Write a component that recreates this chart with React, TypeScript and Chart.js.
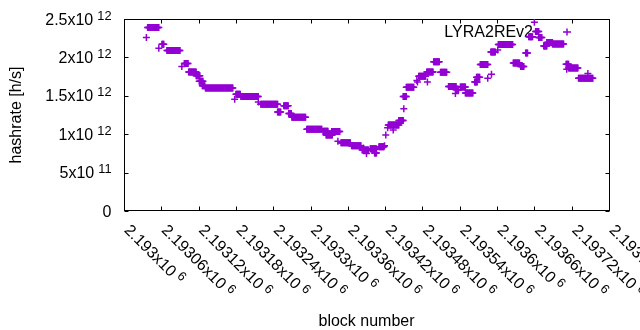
import React, { useEffect, useRef } from "react";
import { Chart, registerables } from "chart.js";

Chart.register(...registerables);

// ---- axes ----
const X_MIN = 2193000;
const X_MAX = 2193780;
const Y_MIN = 0;
const Y_MAX = 2.5e12;
const X_TICKS = [2193000, 2193060, 2193120, 2193180, 2193240, 2193300, 2193360, 2193420, 2193480, 2193540, 2193600, 2193660, 2193720, 2193780];
const X_TICK_LABELS = ["2.193x10^{6}", "2.19306x10^{6}", "2.19312x10^{6}", "2.19318x10^{6}", "2.19324x10^{6}", "2.1933x10^{6}", "2.19336x10^{6}", "2.19342x10^{6}", "2.19348x10^{6}", "2.19354x10^{6}", "2.1936x10^{6}", "2.19366x10^{6}", "2.19372x10^{6}", "2.19378x10^{6}"];
const Y_TICKS = [0, 5e11, 1e12, 1.5e12, 2e12, 2.5e12];
const Y_TICK_LABELS = ["0", "5x10^{11}", "1x10^{12}", "1.5x10^{12}", "2x10^{12}", "2.5x10^{12}"];
const X_TITLE = "block number";
const Y_TITLE = "hashrate [h/s]";
const SERIES_NAME = "LYRA2REv2";

// ---- data: runs of blocks (offset from X_MIN) sharing one hashrate (x10^12 h/s) ----
const RUN_START = [38, 36, 56, 61, 69, 93, 97, 104, 116, 121, 126, 131, 178, 180, 188, 216, 220, 247, 257, 265, 270, 294, 320, 325, 334, 344, 349, 366, 385, 383, 390, 396, 403, 410, 419, 421, 424, 425, 433, 442, 450, 449, 454, 471, 472, 474, 487, 488, 498, 509, 522, 533, 534, 541, 549, 564, 567, 585, 573, 591, 590, 601, 602, 626, 638, 646, 651, 660, 662, 667, 675, 680, 689, 711, 712, 715, 731, 746];
const RUN_END = [56, 36, 56, 64, 90, 93, 103, 116, 122, 127, 130, 175, 178, 187, 216, 216, 247, 252, 264, 269, 292, 318, 328, 335, 347, 344, 364, 381, 385, 393, 390, 406, 406, 418, 419, 421, 424, 442, 433, 449, 450, 454, 466, 471, 472, 485, 497, 488, 507, 519, 534, 533, 538, 549, 561, 568, 572, 585, 585, 591, 597, 601, 625, 636, 643, 649, 657, 660, 667, 672, 680, 689, 707, 715, 712, 730, 754, 746];
const RUN_VALUE = [2.39, 2.26, 2.12, 2.17, 2.09, 1.88, 1.92, 1.81, 1.76, 1.69, 1.63, 1.60, 1.455, 1.52, 1.49, 1.42, 1.39, 1.29, 1.37, 1.27, 1.22, 1.065, 1.04, 0.99, 1.035, 0.907, 0.89, 0.85, 0.82, 0.794, 0.75, 0.81, 0.755, 0.837, 0.85, 0.99, 1.085, 1.12, 1.055, 1.18, 1.33, 1.49, 1.61, 1.70, 1.68, 1.754, 1.81, 1.68, 1.944, 1.806, 1.62, 1.53, 1.58, 1.615, 1.536, 1.68, 1.74, 1.73, 1.908, 1.78, 2.07, 2.096, 2.168, 1.927, 1.88, 2.057, 2.27, 2.457, 2.337, 2.26, 2.15, 2.195, 2.174, 1.91, 1.845, 1.862, 1.728, 1.79];

const COLOR = "#9400d3";
const FONT = '"Liberation Sans", Arial, sans-serif';
const MAIN_SIZE = 16;
const SUP_SIZE = 12.8;

function buildPoints() {
  const pts: { x: number; y: number }[] = [];
  for (let i = 0; i < RUN_START.length; i++) {
    for (let b = RUN_START[i]; b <= RUN_END[i]; b++) {
      pts.push({ x: X_MIN + b, y: RUN_VALUE[i] * 1e12 });
    }
  }
  return pts;
}

function parseSup(label: string): [string, string] {
  const m = label.match(/^(.*?)\^\{(.*)\}$/);
  return m ? [m[1], m[2]] : [label, ""];
}

function drawEnhanced(ctx: CanvasRenderingContext2D, label: string, x: number, y: number, alignRight: boolean) {
  const [base, exp] = parseSup(label);
  ctx.font = `${MAIN_SIZE}px ${FONT}`;
  const w1 = ctx.measureText(base).width;
  ctx.font = `${SUP_SIZE}px ${FONT}`;
  const gap = exp ? 4 : 0;
  const w2 = exp ? ctx.measureText(exp).width : 0;
  const x0 = alignRight ? x - (w1 + gap + w2) : x;
  ctx.textAlign = "left";
  ctx.textBaseline = "alphabetic";
  ctx.font = `${MAIN_SIZE}px ${FONT}`;
  ctx.fillText(base, x0, y);
  if (exp) {
    ctx.font = `${SUP_SIZE}px ${FONT}`;
    ctx.fillText(exp, x0 + w1 + gap, y - 5);
  }
}

const gnuplotPlugin = {
  id: "gnuplotFrame",
  beforeDatasetsDraw(chart: any) {
    const ctx: CanvasRenderingContext2D = chart.ctx;
    const { left, right, top, bottom } = chart.chartArea;
    const xs = chart.scales.x;
    const ys = chart.scales.y;
    ctx.save();
    ctx.fillStyle = "#000";
    ctx.strokeStyle = "#000";
    ctx.lineWidth = 1;

    // border
    ctx.strokeRect(left + 0.5, top + 0.5, right - left, bottom - top - 1);

    // ticks (inward, mirrored)
    ctx.beginPath();
    X_TICKS.forEach((v) => {
      const px = Math.round(xs.getPixelForValue(v)) + 0.5;
      ctx.moveTo(px, bottom - 0.5);
      ctx.lineTo(px, bottom - 4.5);
      ctx.moveTo(px, top + 0.5);
      ctx.lineTo(px, top + 4.5);
    });
    Y_TICKS.forEach((v) => {
      const py = Math.round(ys.getPixelForValue(v)) + 0.5;
      ctx.moveTo(left + 0.5, py);
      ctx.lineTo(left + 4.5, py);
      ctx.moveTo(right + 0.5, py);
      ctx.lineTo(right - 3.5, py);
    });
    ctx.stroke();

    // y tick labels
    Y_TICKS.forEach((v, i) => {
      const py = ys.getPixelForValue(v);
      drawEnhanced(ctx, Y_TICK_LABELS[i], left - 12.5, py + 5.5, true);
    });

    // x tick labels (rotated -45 deg as in gnuplot)
    X_TICKS.forEach((v, i) => {
      const px = xs.getPixelForValue(v);
      ctx.save();
      ctx.translate(px - 0.5, bottom + 20);
      ctx.rotate(Math.PI / 4);
      drawEnhanced(ctx, X_TICK_LABELS[i], 0, 0, false);
      ctx.restore();
    });

    // axis titles
    ctx.font = `${MAIN_SIZE}px ${FONT}`;
    ctx.textAlign = "center";
    ctx.textBaseline = "alphabetic";
    ctx.fillText(X_TITLE, (left + right) / 2, 325.5);
    ctx.save();
    ctx.translate(21, (top + bottom) / 2);
    ctx.rotate(-Math.PI / 2);
    ctx.fillText(Y_TITLE, 0, 0);
    ctx.restore();

    // key
    ctx.textAlign = "right";
    ctx.fillText(SERIES_NAME, 533, 37);
    ctx.strokeStyle = COLOR;
    ctx.lineWidth = 1.5;
    ctx.beginPath();
    ctx.moveTo(563, 32);
    ctx.lineTo(571, 32);
    ctx.moveTo(567, 28.5);
    ctx.lineTo(567, 35.5);
    ctx.stroke();
    ctx.restore();
  },
};

export default function App() {
  const ref = useRef<HTMLCanvasElement | null>(null);
  useEffect(() => {
    if (!ref.current) return;
    const chart = new Chart(ref.current, {
      type: "scatter",
      data: {
        datasets: [
          {
            label: SERIES_NAME,
            data: buildPoints(),
            pointStyle: "cross",
            pointRadius: 3.5,
            pointBorderWidth: 1.5,
            borderColor: COLOR,
            backgroundColor: COLOR,
            showLine: false,
          } as any,
        ],
      },
      options: {
        responsive: false,
        devicePixelRatio: 1,
        animation: false,
        events: [],
        layout: { padding: { left: 124, right: 31, top: 19, bottom: 119 } },
        plugins: { legend: { display: false }, tooltip: { enabled: false }, title: { display: false } },
        scales: {
          x: { type: "linear", min: X_MIN, max: X_MAX, display: false },
          y: { type: "linear", min: Y_MIN, max: Y_MAX, display: false },
        },
      },
      plugins: [gnuplotPlugin],
    });
    return () => chart.destroy();
  }, []);
  return (
    <div style={{ position: "absolute", left: 0, top: 0, width: 640, height: 330, background: "#fff" }}>
      <canvas ref={ref} width={640} height={330} style={{ display: "block" }} />
    </div>
  );
}
